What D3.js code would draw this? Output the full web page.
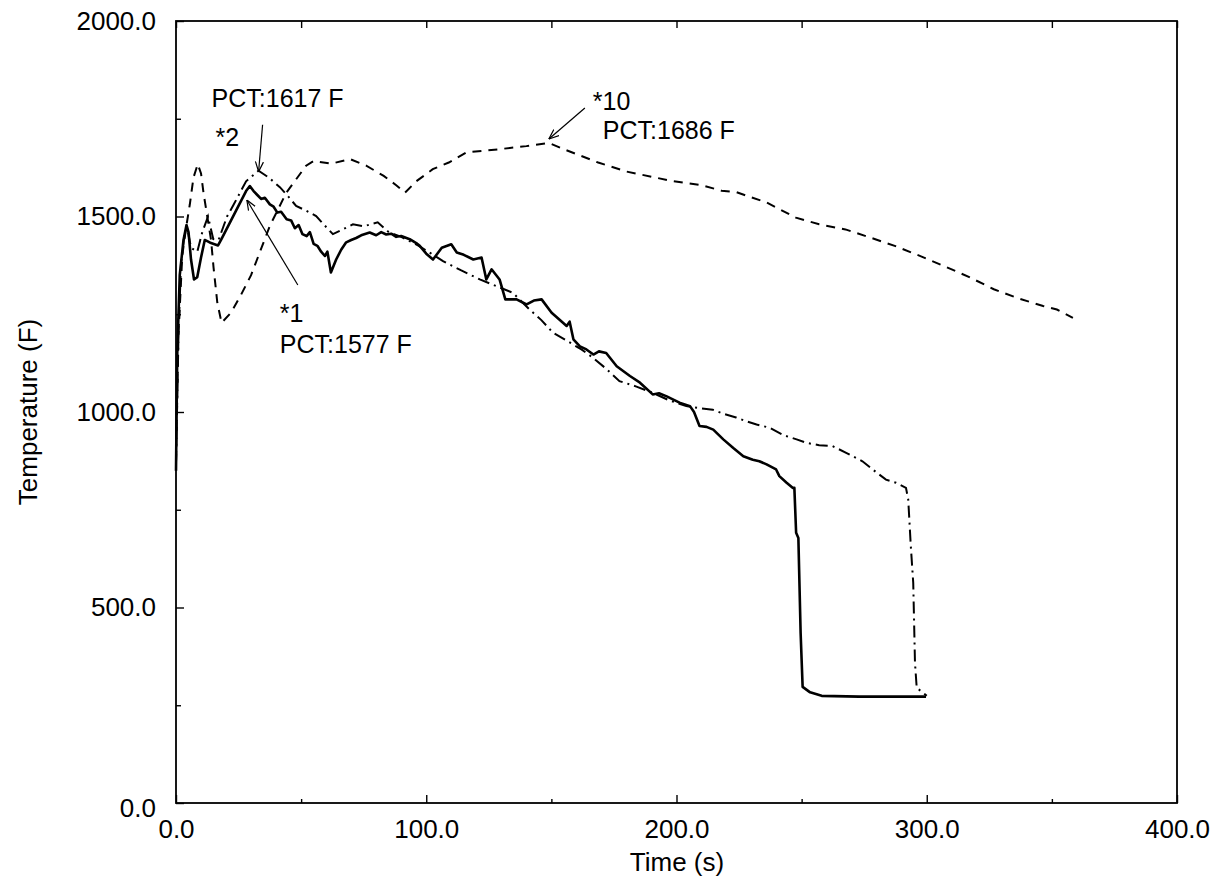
<!DOCTYPE html>
<html>
<head>
<meta charset="utf-8">
<script src="https://cdn.jsdelivr.net/npm/d3@7"></script>
<style>
  body { margin: 0; background: #fff; }
  svg text { font-family: "Liberation Sans", Arial, Helvetica, sans-serif; fill: #000; }
</style>
</head>
<body>
<svg id="chart" width="1221" height="885"></svg>
<script>
// x ticks (s) and y ticks (F)
var xMajor = [0, 100, 200, 300, 400];
var xMinor = [50, 150, 250, 350];
var yMajor = [0, 500, 1000, 1500, 2000];
var yMinor = [250, 750, 1250, 1750];

// case *1 (solid) [time, temp]
var case1 = [
  [0,850],[0.5,1150],[1.5,1350],[3,1440],[4.2,1478],[5,1460],[6,1390],[7.2,1339],[8.5,1345],
  [10,1395],[11.5,1440],[12.5,1437],[14,1432],[16.8,1426],[18,1440],[20,1465],[22,1490],
  [24,1515],[26,1540],[28,1565],[29.5,1578],[31,1565],[32.5,1555],[34,1545],[35.5,1548],
  [37.5,1531],[39,1525],[40.5,1510],[42,1512],[44.2,1493],[46,1490],[47.5,1470],[49,1478],
  [50.5,1455],[52.2,1450],[53.5,1460],[55,1430],[56.5,1425],[58,1410],[59.5,1399],[60.5,1410],
  [61.9,1357],[64,1390],[66,1415],[68,1434],[70,1440],[72,1445],[74,1452],[77.4,1459],[80,1452],
  [82,1460],[84,1454],[86,1456],[88,1448],[90,1450],[93.4,1442],[96,1432],[97.4,1425],
  [100,1405],[102.7,1390],[106.2,1420],[110,1429],[112.2,1408],[115,1402],[118.8,1390],
  [122.1,1395],[124,1339],[126.1,1365],[129.3,1339],[131.6,1288],[136.1,1288],[140.1,1275],
  [143,1285],[146.1,1288],[150.1,1254],[151.7,1245],[156.1,1220],[157.3,1231],[158.8,1186],
  [161.4,1168],[164,1160],[166.8,1147],[169,1155],[171.9,1151],[176.1,1117],[181.4,1092],
  [185.4,1075],[190.5,1045],[193,1048],[196.1,1040],[201.2,1024],[205.4,1015],[207,1000],
  [209.2,964],[212,962],[214.7,955],[218.7,930],[222.7,908],[226.7,887],[230.5,878],
  [233.1,874],[236,866],[239.8,853],[241.1,836],[244,819],[246.4,806],[247.1,806],
  [247.8,691],[248.7,678],[249.6,435],[250.4,297],[253.4,283],[258,274],[273,272],[299.7,272]
];

// case *2 (dash-dot)
var case2 = [
  [0,870],[1,1200],[2,1380],[3.5,1460],[4.5,1470],[6,1420],[8.5,1410],[10.5,1460],[12.8,1500],
  [14.9,1442],[17,1440],[20.4,1500],[23,1530],[28,1590],[33,1617],[37,1600],[41.5,1575],
  [45,1550],[48,1527],[52,1515],[56,1501],[59,1480],[62.7,1455],[66,1465],[70.7,1480],
  [75,1475],[80.6,1485],[85,1460],[90,1448],[97,1425],[102,1405],[106.7,1386],[114,1362],
  [121.4,1339],[128,1322],[134.6,1305],[141.3,1262],[146,1235],[150.6,1203],[157.3,1178],
  [162,1160],[166.6,1139],[172,1110],[177.2,1079],[184,1065],[190.5,1049],[197,1030],
  [203.9,1015],[209,1010],[214.5,1006],[219,995],[223.8,986],[228,976],[232,968],[237.1,960],
  [243,940],[248,930],[252,921],[257,915],[262.3,913],[268,895],[274.3,874],[279,850],
  [283.7,827],[287.7,819],[291.7,806],[292.6,776],[293.6,660],[294.6,563],[295.3,358],
  [296,294],[298,285],[300,274]
];

// case *10 (dashed)
var case10 = [
  [0,870],[1,1200],[2.5,1400],[4,1470],[5.5,1530],[7,1600],[8.7,1634],[10,1610],[11,1560],
  [12.5,1500],[14,1440],[15,1370],[16.5,1280],[18.2,1228],[22,1254],[26,1300],[30,1350],
  [37.5,1476],[44,1560],[48,1595],[52,1630],[55,1642],[62,1635],[69.5,1647],[76,1630],
  [83,1604],[88,1580],[91.5,1561],[96,1590],[102.6,1621],[109,1638],[116,1664],[129,1672],
  [140,1680],[149,1688],[155,1672],[168.7,1638],[180,1615],[198,1591],[210,1580],[218,1566],
  [224,1562],[228,1553],[236,1536],[247.7,1497],[257,1480],[267.5,1467],[277,1447],
  [287.2,1425],[297,1400],[307,1373],[317,1345],[326.8,1314],[336,1292],[346.5,1271],
  [352,1262],[358.4,1241]
];

// peak annotations
var peakLabels = ["PCT:1577 F", "PCT:1617 F", "PCT:1686 F"];
var peakCases = ["*1", "*2", "*10"];
var peakPoints = [[29.5, 1578], [33, 1617], [149, 1688]];

var svg = d3.select("#chart");
var x = d3.scaleLinear().domain([0, 400]).range([176, 1177]);
var y = d3.scaleLinear().domain([0, 2000]).range([803, 21]);

svg.append("rect").attr("width", 1221).attr("height", 885).attr("fill", "#fff");

var line = d3.line().x(function(d){ return x(d[0]); }).y(function(d){ return y(d[1]); });

svg.append("path").datum(case10).attr("d", line)
  .attr("fill", "none").attr("stroke", "#000").attr("stroke-width", 2)
  .attr("stroke-dasharray", "9,7");
svg.append("path").datum(case2).attr("d", line)
  .attr("fill", "none").attr("stroke", "#000").attr("stroke-width", 2)
  .attr("stroke-dasharray", "12,5,2,5");
svg.append("path").datum(case1).attr("d", line)
  .attr("fill", "none").attr("stroke", "#000").attr("stroke-width", 2.6)
  .attr("stroke-linejoin", "round");

// axes
var fmt = d3.format(".1f");
var gx = svg.append("g").attr("transform", "translate(0,803)")
  .call(d3.axisBottom(x).tickValues(xMajor).tickFormat(fmt).tickSize(-8).tickPadding(17));
svg.append("g").attr("transform", "translate(0,803)")
  .call(d3.axisBottom(x).tickValues(xMinor).tickFormat("").tickSize(-4));
svg.append("g").attr("transform", "translate(0,21)")
  .call(d3.axisTop(x).tickValues(xMajor.concat(xMinor)).tickFormat("").tickSize(-7));
var gy = svg.append("g").attr("transform", "translate(176,0)")
  .call(d3.axisLeft(y).tickValues(yMajor).tickFormat(fmt).tickSize(-8).tickPadding(20));
svg.append("g").attr("transform", "translate(176,0)")
  .call(d3.axisLeft(y).tickValues(yMinor).tickFormat("").tickSize(-5));

svg.selectAll(".domain").remove();
svg.selectAll(".tick line").attr("stroke", "#000").attr("stroke-width", 1.4);
gx.selectAll("text").attr("font-size", 26);
gy.selectAll("text").attr("font-size", 26);
gy.selectAll(".tick").filter(function(d){ return d === 0; }).select("text").attr("dy", "0.5em");

svg.append("rect").attr("x", 176).attr("y", 21).attr("width", 1001).attr("height", 782)
  .attr("fill", "none").attr("stroke", "#000").attr("stroke-width", 1.8);

svg.append("text").attr("x", 677).attr("y", 871).attr("text-anchor", "middle")
  .attr("font-size", 26).text("Time (s)");
svg.append("text").attr("transform", "translate(37,412) rotate(-90)").attr("text-anchor", "middle")
  .attr("font-size", 26).text("Temperature (F)");

// arrows
var defs = svg.append("defs");
defs.append("marker").attr("id", "arr").attr("viewBox", "0 0 10 10").attr("refX", 10).attr("refY", 5)
  .attr("markerWidth", 10).attr("markerHeight", 10).attr("markerUnits", "userSpaceOnUse")
  .attr("orient", "auto")
  .append("path").attr("d", "M0,1 L10,5 L0,9").attr("fill", "none").attr("stroke", "#000").attr("stroke-width", 1.2);

// label offsets relative to each peak (px)
var arrowTail = [[48, 99], [4, -46], [36, -35]];
var arrowTip = [[-3, 14], [0, 1], [0, -4]];
var caseOff = [[30, 136], [-43, -25], [44, -33]];
var pctOff = [[30, 167], [-47, -64], [54, -4]];

peakPoints.forEach(function(p, i){
  var px = x(p[0]), py = y(p[1]);
  svg.append("line")
    .attr("x1", px + arrowTail[i][0]).attr("y1", py + arrowTail[i][1])
    .attr("x2", px + arrowTip[i][0]).attr("y2", py + arrowTip[i][1])
    .attr("stroke", "#000").attr("stroke-width", 1.2).attr("marker-end", "url(#arr)");
  svg.append("text").attr("x", px + caseOff[i][0]).attr("y", py + caseOff[i][1])
    .attr("font-size", 25).text(peakCases[i]);
  svg.append("text").attr("x", px + pctOff[i][0]).attr("y", py + pctOff[i][1])
    .attr("font-size", 25).text(peakLabels[i]);
});
</script>
</body>
</html>
